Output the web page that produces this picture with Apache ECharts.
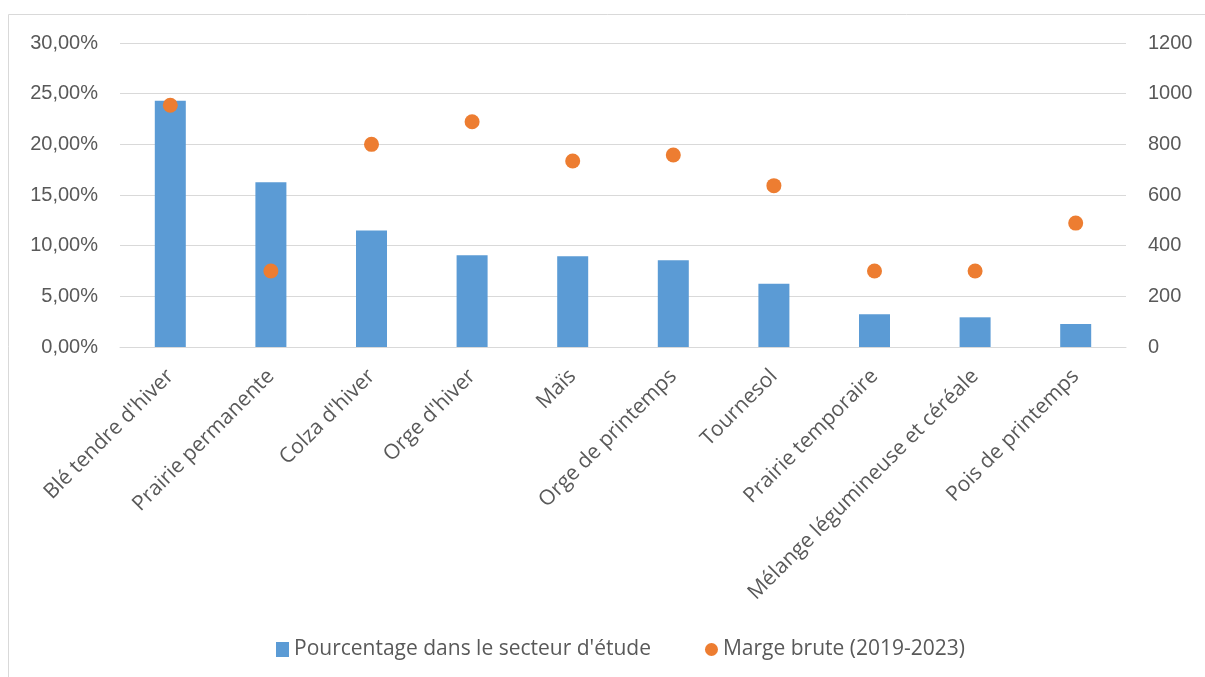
<!DOCTYPE html>
<html><head><meta charset="utf-8">
<script src="https://cdn.jsdelivr.net/npm/echarts@6/dist/echarts.min.js"></script>
<style>html,body{margin:0;padding:0;background:#fff}#c{width:1205px;height:677px}</style>
</head><body><div id="c"></div>
<script>
const categories = ["Blé tendre d'hiver","Prairie permanente","Colza d'hiver","Orge d'hiver","Maïs","Orge de printemps","Tournesol","Prairie temporaire","Mélange légumineuse et céréale","Pois de printemps"];
const pourcentage = [24.3, 16.25, 11.5, 9.05, 8.95, 8.55, 6.25, 3.22, 2.93, 2.27];
const margeBrute = [954, 300, 800, 889, 734, 758, 637, 300, 300, 489];
const seriesNames = ["Pourcentage dans le secteur d'étude", "Marge brute (2019-2023)"];

const font = "'Open Sans', 'Liberation Sans', Arial, sans-serif";
const axisFont = "'Liberation Sans', Arial, sans-serif";
const chart = echarts.init(document.getElementById('c'));
chart.setOption({
  animation: false,
  textStyle: {fontFamily: font},
  graphic: [{type:'rect', shape:{x:8.5,y:14.5,width:1220,height:700}, style:{fill:'none', stroke:'#d9d9d9', lineWidth:1}, silent:true}],
  grid: {left:120, right:79, top:43, bottom:330},
  legend: {
    bottom: 12, left: 271, itemGap: 54, itemWidth: 13, itemHeight: 15,
    textStyle: {fontSize: 21, color:'#595959', fontFamily: font},
    data: [{name: seriesNames[0], icon:'rect'}, {name: seriesNames[1], icon:'circle'}]
  },
  xAxis: {
    type:'category', data: categories,
    axisLine:{lineStyle:{color:'#d9d9d9'}}, axisTick:{show:false},
    axisLabel:{rotate:45, interval:0, fontSize:21, color:'#595959', margin:26, fontFamily: font}
  },
  yAxis: [
    {type:'value', min:0, max:30, interval:5,
     axisLabel:{formatter: v => v.toFixed(2).replace('.',',') + '%', fontSize:20, color:'#595959', margin:22, fontFamily: axisFont},
     splitLine:{lineStyle:{color:'#d9d9d9'}}, axisLine:{show:false}, axisTick:{show:false}},
    {type:'value', min:0, max:1200, interval:200,
     axisLabel:{formatter: v => String(v), fontSize:20, color:'#595959', margin:22, fontFamily: axisFont},
     splitLine:{show:false}, axisLine:{show:false}, axisTick:{show:false}}
  ],
  series: [
    {name: seriesNames[0], type:'bar', data: pourcentage, barWidth: 31, itemStyle:{color:'#5b9bd5'}},
    {name: seriesNames[1], type:'scatter', yAxisIndex:1, data: margeBrute, symbolSize: 15, itemStyle:{color:'#ed7d31', opacity:1}, z:3}
  ]
});
</script></body></html>
